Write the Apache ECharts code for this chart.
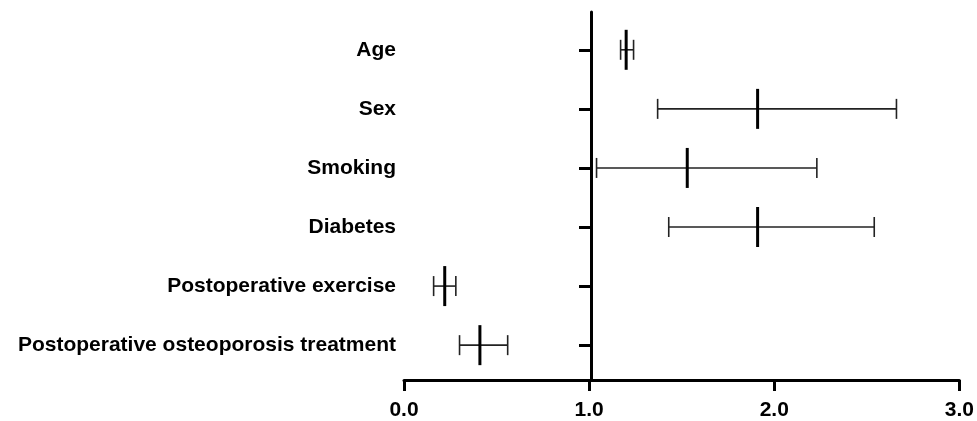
<!DOCTYPE html>
<html><head><meta charset="utf-8">
<script src="https://cdn.jsdelivr.net/npm/echarts@6/dist/echarts.min.js"></script>
<style>html,body{margin:0;padding:0;background:#fff}#c{width:977px;height:421px}</style>
</head><body><div id="c"></div>
<script>
const categories = ['Age','Sex','Smoking','Diabetes','Postoperative exercise','Postoperative osteoporosis treatment'];
const estimates = [1.20, 1.91, 1.53, 1.91, 0.22, 0.41];
const lowerCI = [1.17, 1.37, 1.04, 1.43, 0.16, 0.30];
const upperCI = [1.24, 2.66, 2.23, 2.54, 0.28, 0.56];
const xTicks = [0, 1, 2, 3];

const data = categories.map((c, i) => [lowerCI[i], estimates[i], upperCI[i], i]);
const chart = echarts.init(document.getElementById('c'));
const font = 'Liberation Sans, Arial, sans-serif';
const gridLeft = 404, gridWidth = 561;
chart.setOption({
  animation: false,
  grid: {left: gridLeft, width: gridWidth, top: 12, bottom: 38},
  xAxis: {
    type: 'value', min: 0, max: 3, interval: 1,
    axisLine: {show: true, onZero: false, lineStyle: {color: '#000', width: 3}},
    axisTick: {show: true, length: 11, customValues: xTicks, lineStyle: {color: '#000', width: 3}},
    splitLine: {show: false},
    axisLabel: {customValues: xTicks, color: '#000', fontSize: 21, fontWeight: 'bold', fontFamily: font, margin: 20,
      formatter: v => v.toFixed(1)}
  },
  yAxis: {
    type: 'value', min: -0.64, max: 5.59, inverse: true,
    offset: -(gridWidth / 3),
    axisLine: {show: true, onZero: false, lineStyle: {color: '#000', width: 3}},
    axisTick: {show: true, length: 12, customValues: [0,1,2,3,4,5], lineStyle: {color: '#000', width: 3}},
    splitLine: {show: false},
    axisLabel: {customValues: [0,1,2,3,4,5], color: '#000', fontSize: 21, fontWeight: 'bold', fontFamily: font,
      margin: 195, formatter: v => categories[Math.round(v)]}
  },
  series: [{
    type: 'custom',
    data: data,
    encode: {x: [0, 1, 2], y: 3},
    renderItem: (params, api) => {
      const lo = api.coord([api.value(0), api.value(3)]);
      const mid = api.coord([api.value(1), api.value(3)]);
      const hi = api.coord([api.value(2), api.value(3)]);
      const capH = 10, midH = 20;
      const thin = {stroke: '#222', lineWidth: 1.6};
      return {type: 'group', children: [
        {type: 'line', shape: {x1: lo[0], y1: lo[1], x2: hi[0], y2: hi[1]}, style: thin},
        {type: 'line', shape: {x1: lo[0], y1: lo[1]-capH, x2: lo[0], y2: lo[1]+capH}, style: thin},
        {type: 'line', shape: {x1: hi[0], y1: hi[1]-capH, x2: hi[0], y2: hi[1]+capH}, style: thin},
        {type: 'line', shape: {x1: mid[0], y1: mid[1]-midH, x2: mid[0], y2: mid[1]+midH}, style: {stroke: '#000', lineWidth: 3}}
      ]};
    }
  }]
});
</script></body></html>
